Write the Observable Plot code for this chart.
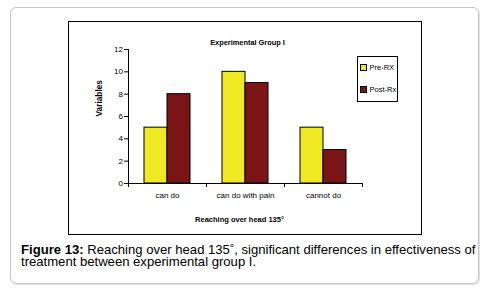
<!DOCTYPE html>
<html>
<head>
<meta charset="utf-8">
<script src="https://cdn.jsdelivr.net/npm/d3@7"></script>
<script src="https://cdn.jsdelivr.net/npm/@observablehq/plot@0.6"></script>
<style>
  html, body { margin: 0; padding: 0; background: #fff; }
  body { width: 494px; height: 288px; position: relative; overflow: hidden; font-family: "Liberation Sans", Arial, sans-serif; }
  #outer { position: absolute; left: 10px; top: 7px; width: 469px; height: 277px; box-sizing: border-box;
           border: 1px solid #c4c4c4; border-radius: 6px; box-shadow: 1px 1px 1px #e0e0e0; }
  #chartbox { position: absolute; left: 68px; top: 21px; width: 354px; height: 214px; box-sizing: border-box; border: 1px solid #000; }
  #plot { position: absolute; left: 68px; top: 21px; }
  #legend { position: absolute; left: 357px; top: 56px; width: 41px; height: 46px; box-sizing: border-box; border: 1px solid #000; background: #fff;
            font-size: 7.5px; color: #000; }
  .li { position: absolute; left: 2px; display: flex; align-items: center; white-space: nowrap; }
  .sw { width: 5px; height: 5px; border: 1px solid #000; margin-right: 2.5px; }
  #caption { position: absolute; left: 21px; top: 243.5px; width: 462px; font-size: 13.1px; line-height: 12px; color: #000; }
</style>
</head>
<body>
<div id="outer"></div>
<div id="chartbox"></div>
<div id="plot"></div>
<div id="legend"></div>
<div id="caption"><b>Figure 13:</b> Reaching over head 135˚, significant differences in effectiveness of treatment between experimental group I.</div>
<script>
const categories = ["can do", "can do with pain", "cannot do"];
const series = ["Pre-RX", "Post-Rx"];
const preRx = [5, 10, 5];
const postRx = [8, 9, 3];
const yTicks = [0, 2, 4, 6, 8, 10, 12];
const colors = ["#efe923", "#7b1416"];
const title = "Experimental Group I";
const xLabel = "Reaching over head 135°";
const yLabel = "Variables";

const data = [];
categories.forEach((c, i) => {
  data.push({category: c, series: series[0], value: preRx[i]});
  data.push({category: c, series: series[1], value: postRx[i]});
});

const W = 355, H = 215;
const font = "Liberation Sans, Arial, sans-serif";

const chart = Plot.plot({
  width: W, height: H,
  marginLeft: 60, marginRight: 61, marginTop: 28, marginBottom: 53,
  style: {fontFamily: font, background: "transparent", overflow: "visible"},
  x: {domain: categories, padding: 0, axis: null},
  y: {domain: [0, 12], axis: null},
  color: {domain: series, range: colors},
  marks: [
    Plot.barY(data.filter(d => d.series === series[0]), {x: "category", y: "value", fill: "series", stroke: "#000", strokeWidth: 1, insetLeft: 16, insetRight: 39}),
    Plot.barY(data.filter(d => d.series === series[1]), {x: "category", y: "value", fill: "series", stroke: "#000", strokeWidth: 1, insetLeft: 39, insetRight: 16}),
    Plot.ruleY([0], {stroke: "#000"}),
    Plot.ruleX([categories[0]], {y1: 0, y2: 12, dx: -39, stroke: "#000"}),
    Plot.axisY({ticks: yTicks, tickSize: 4, tickPadding: 1.5, fontSize: 8, label: null, anchor: "left"}),
    Plot.axisX({ticks: categories, tickSize: 4, text: null, label: null, dx: -39}),
    Plot.axisX({ticks: [categories[categories.length - 1]], tickSize: 4, text: null, label: null, dx: 39}),
    Plot.axisX({tickSize: 0, tickPadding: 9, fontSize: 8, label: null}),
    Plot.text([title], {frameAnchor: "top", dy: -10, dx: 2, fontSize: 7.4, fontWeight: "bold", fill: "#000"}),
    Plot.text([xLabel], {frameAnchor: "bottom", dy: 38, dx: -6, fontSize: 7.5, fontWeight: "bold", fill: "#000"}),
    Plot.text([yLabel], {frameAnchor: "left", dx: -29, rotate: -90, fontSize: 8.3, fontWeight: "bold", fill: "#000"})
  ]
});
document.getElementById("plot").appendChild(chart);

const legend = document.getElementById("legend");
series.forEach((s, i) => {
  const row = document.createElement("div");
  row.className = "li";
  row.style.top = (i === 0 ? 6 : 28) + "px";
  const sw = document.createElement("div");
  sw.className = "sw";
  sw.style.background = colors[i];
  const t = document.createElement("span");
  t.textContent = s;
  row.appendChild(sw); row.appendChild(t);
  legend.appendChild(row);
});
</script>
</body>
</html>
